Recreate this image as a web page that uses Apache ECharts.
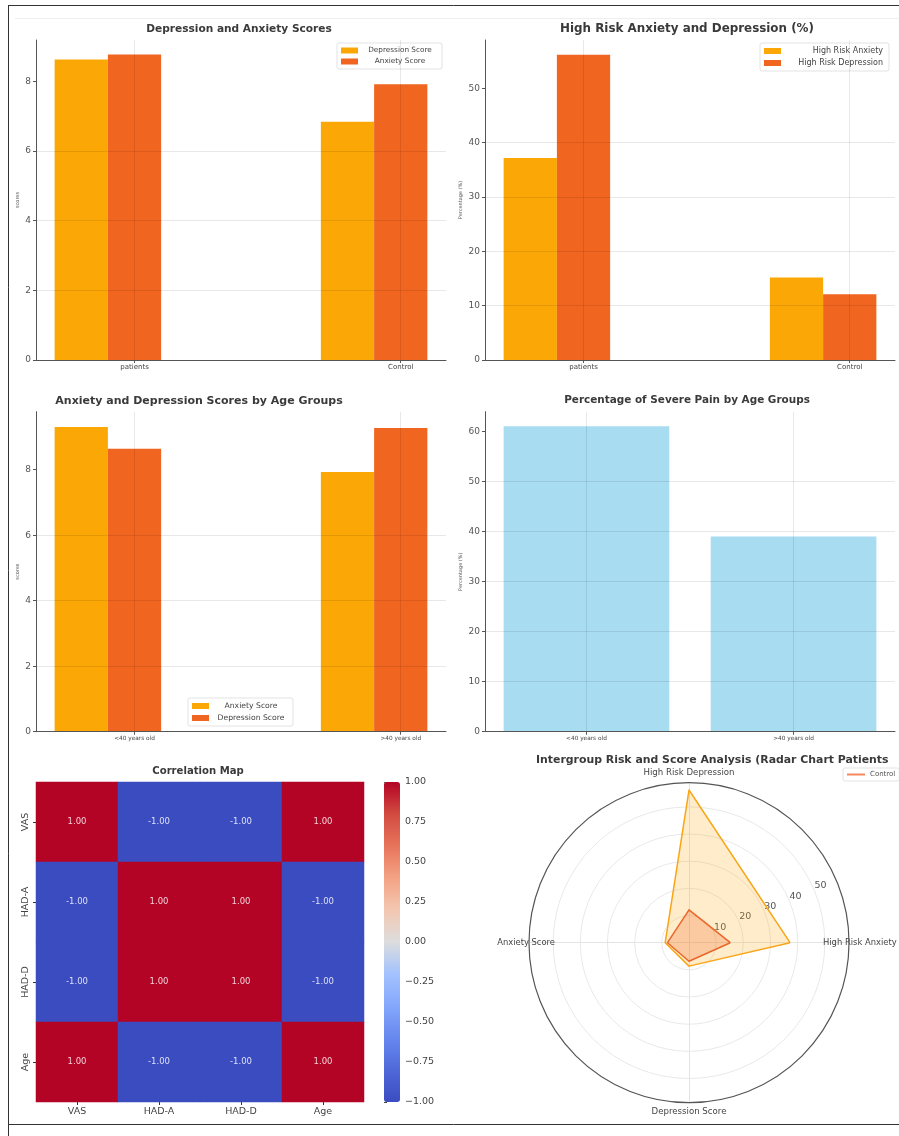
<!DOCTYPE html>
<html><head><meta charset="utf-8">
<script src="https://cdn.jsdelivr.net/npm/echarts@6/dist/echarts.min.js"></script>
<style>html,body{margin:0;padding:0;background:#fff}#c{width:899px;height:1136px}</style>
</head><body><div id="c"></div>
<script>
// ---------------- data ----------------
const groups = ['patients', 'Control'];
const depressionScore = [8.63, 6.84];
const anxietyScore = [8.77, 7.92];
const highRiskAnxiety = [37.2, 15.2];
const highRiskDepression = [56.2, 12.1];
const ageGroups = ['<40 years old', '>40 years old'];
const ageAnxietyScore = [9.30, 7.93];
const ageDepressionScore = [8.64, 9.27];
const severePainPct = [61.0, 39.0];
const corrVars = ['VAS', 'HAD-A', 'HAD-D', 'Age'];
const corrMatrix = [
  [1, -1, -1, 1],
  [-1, 1, 1, -1],
  [-1, 1, 1, -1],
  [1, -1, -1, 1]
];
const radarAxes = ['High Risk Anxiety', 'High Risk Depression', 'Anxiety Score', 'Depression Score'];
const radarPatients = [37.2, 56.2, 8.77, 8.63];
const radarControl = [15.2, 12.1, 7.92, 6.84];
const scoreTicks = [0, 2, 4, 6, 8];
const pctTicks = [0, 10, 20, 30, 40, 50];
const painTicks = [0, 10, 20, 30, 40, 50, 60];
const colorbarTicks = [-1, -0.75, -0.5, -0.25, 0, 0.25, 0.5, 0.75, 1];
const radialTicks = [10, 20, 30, 40, 50];

// ---------------- style ----------------
const FONT = 'DejaVu Sans';
const C_LIGHT = '#fba806';
const C_DARK = '#f0651f';
const C_SKY = 'rgba(135,206,235,0.72)';
const GRIDC = 'rgba(0,0,0,0.09)';
const AXC = '#555';
const COOLWARM = ['#3b4cc0', '#4f69d9', '#6788ee', '#84a7fc', '#a3c2fe', '#dcdddd', '#f3c7b1', '#f4a384', '#e7745b', '#d24b40', '#b40426'];

const grids = [], xAxes = [], yAxes = [], series = [], legends = [], titles = [];

function addBarPanel(o) {
  const gi = grids.length;
  grids.push({ left: o.left, top: o.top, width: o.width, height: o.height, outerBoundsMode: 'none', containLabel: false });
  const xt = o.cats.map((c, i) => i);
  xAxes.push({
    type: 'value', gridIndex: gi, min: o.xmin, max: o.xmax, z: 5,
    axisLine: { show: true, onZero: false, lineStyle: { color: AXC, width: 1 } },
    axisTick: { show: true, length: 3, customValues: xt, lineStyle: { color: AXC } },
    axisLabel: { customValues: xt, formatter: v => o.cats[Math.round(v)], fontSize: o.xFont, color: '#444', margin: 4, fontFamily: FONT },
    splitLine: { show: true, lineStyle: { color: GRIDC, width: 1 } }
  });
  yAxes.push({
    type: 'value', gridIndex: gi, min: 0, max: o.ymax, interval: o.yTicks[1] - o.yTicks[0], z: 5,
    name: o.yName, nameLocation: 'middle', nameGap: o.nameGap,
    nameTextStyle: { fontSize: 5, color: '#555', fontFamily: FONT },
    axisLine: { show: true, onZero: false, lineStyle: { color: AXC, width: 1 } },
    axisTick: { show: true, length: 3, customValues: o.yTicks, lineStyle: { color: AXC } },
    axisLabel: { customValues: o.yTicks, fontSize: 9, color: '#555', margin: 5, fontFamily: FONT },
    splitLine: { show: true, showMaxLine: false, lineStyle: { color: GRIDC, width: 1 } }
  });
  o.series.forEach(s => {
    series.push({
      type: 'bar', name: s.name, xAxisIndex: gi, yAxisIndex: gi,
      data: s.values.map((v, i) => [i, v]),
      barWidth: o.barWidth, barGap: '0%',
      itemStyle: { color: s.color }
    });
  });
  if (o.pad) {
    series.push({ type: 'bar', name: '__pad' + gi, xAxisIndex: gi, yAxisIndex: gi, data: [], barWidth: o.barWidth, barGap: '0%' });
  }
  return gi;
}

function addLegend(o) {
  legends.push({
    orient: 'vertical', left: o.left, top: o.top, padding: o.padding || [4, 5, 4, 4],
    itemGap: 4, itemWidth: 17, itemHeight: 6, icon: 'rect', selectedMode: false,
    borderColor: '#dcdcdc', borderWidth: 0.8, borderRadius: 2, backgroundColor: 'rgba(255,255,255,0.85)',
    data: o.names.map((n, i) => ({ name: n, itemStyle: { color: o.colors[i] } })),
    formatter: '{t|{name}}',
    textStyle: { fontFamily: FONT, color: '#444', fontSize: o.fontSize,
      rich: { t: { width: o.textWidth, align: o.align, fontSize: o.fontSize, lineHeight: 8, color: '#444', fontFamily: FONT } } }
  });
}

function addTitle(text, x, y, size, align) {
  titles.push({
    text: text, left: x, top: y, padding: 0, textAlign: align || 'center', textVerticalAlign: 'middle',
    textStyle: { fontFamily: FONT, fontSize: size, fontWeight: 'bold', color: '#3a3a3a' }
  });
}

// Panel 1
addBarPanel({
  left: 36, top: 40, width: 410, height: 320, xmin: -0.37, xmax: 1.17, ymax: 9.19,
  cats: groups, xFont: 7, yTicks: scoreTicks, yName: 'scores', nameGap: 16, barWidth: '20%', pad: true,
  series: [{ name: 'Depression Score', values: depressionScore, color: C_LIGHT },
           { name: 'Anxiety Score', values: anxietyScore, color: C_DARK }]
});
addLegend({ left: 337, top: 43, names: ['Depression Score', 'Anxiety Score'], colors: [C_LIGHT, C_DARK], fontSize: 7.3, textWidth: 74, align: 'center' });
addTitle('Depression and Anxiety Scores', 239, 29, 10.6);

// Panel 2
addBarPanel({
  left: 485, top: 40, width: 410, height: 320, xmin: -0.37, xmax: 1.17, ymax: 58.9,
  cats: groups, xFont: 7, yTicks: pctTicks, yName: 'Percentage (%)', nameGap: 22, barWidth: '20%', pad: true,
  series: [{ name: 'High Risk Anxiety', values: highRiskAnxiety, color: C_LIGHT },
           { name: 'High Risk Depression', values: highRiskDepression, color: C_DARK }]
});
addLegend({ left: 760, top: 43, padding: [4, 6, 4, 4], names: ['High Risk Anxiety', 'High Risk Depression'], colors: [C_LIGHT, C_DARK], fontSize: 8, textWidth: 97, align: 'right' });
addTitle('High Risk Anxiety and Depression (%)', 687, 29, 11.9);

// Panel 3
addBarPanel({
  left: 36, top: 411.7, width: 410, height: 320, xmin: -0.37, xmax: 1.17, ymax: 9.77,
  cats: ageGroups, xFont: 5.8, yTicks: scoreTicks, yName: 'scores', nameGap: 16, barWidth: '20%', pad: true,
  series: [{ name: 'Anxiety Score', values: ageAnxietyScore, color: C_LIGHT },
           { name: 'Depression Score', values: ageDepressionScore, color: C_DARK }]
});
addLegend({ left: 188, top: 698, names: ['Anxiety Score', 'Depression Score'], colors: [C_LIGHT, C_DARK], fontSize: 7.7, textWidth: 74, align: 'center' });
addTitle('Anxiety and Depression Scores by Age Groups', 199, 400.7, 11.0);

// Panel 4
addBarPanel({
  left: 485, top: 411.7, width: 410, height: 320, xmin: -0.49, xmax: 1.49, ymax: 63.9,
  cats: ageGroups, xFont: 5.8, yTicks: painTicks, yName: 'Percentage (%)', nameGap: 22, barWidth: '80%', pad: false,
  series: [{ name: 'Severe Pain', values: severePainPct, color: C_SKY }]
});
addTitle('Percentage of Severe Pain by Age Groups', 687, 400.7, 10.45);

// Panel 5: heatmap
const hg = grids.length;
grids.push({ left: 36, top: 782, width: 328, height: 320, outerBoundsMode: 'none', containLabel: false });
xAxes.push({
  type: 'category', gridIndex: hg, data: corrVars, position: 'bottom',
  axisLine: { show: false }, splitLine: { show: false }, splitArea: { show: false },
  axisTick: { show: true, alignWithLabel: true, length: 3, lineStyle: { color: '#333' } },
  axisLabel: { fontSize: 9.5, color: '#444', margin: 5, fontFamily: FONT }
});
yAxes.push({
  type: 'category', gridIndex: hg, data: corrVars, inverse: true,
  axisLine: { show: false }, splitLine: { show: false }, splitArea: { show: false },
  axisTick: { show: true, alignWithLabel: true, length: 3, lineStyle: { color: '#333' } },
  axisLabel: { rotate: 90, fontSize: 9.5, color: '#444', margin: 5, fontFamily: FONT }
});
const heatData = [];
corrMatrix.forEach((row, yi) => row.forEach((v, xi) => heatData.push([xi, yi, v])));
const heatIdx = series.length;
series.push({
  type: 'heatmap', xAxisIndex: hg, yAxisIndex: hg, data: heatData,
  label: { show: true, formatter: p => p.value[2].toFixed(2), fontSize: 8.5, color: 'rgba(255,255,255,0.82)', fontFamily: FONT },
  itemStyle: { borderWidth: 0 }
});
addTitle('Correlation Map', 198, 771.7, 10.1);

// colorbar axis
const cg = grids.length;
grids.push({ left: 384, top: 782, width: 16, height: 320, outerBoundsMode: 'none', containLabel: false });
xAxes.push({ type: 'value', gridIndex: cg, show: false, min: 0, max: 1 });
yAxes.push({
  type: 'value', gridIndex: cg, min: -1, max: 1, interval: 0.25, position: 'right',
  axisLine: { show: false }, splitLine: { show: false },
  axisTick: { show: true, length: 3, customValues: colorbarTicks, lineStyle: { color: '#444' } },
  axisLabel: { customValues: colorbarTicks, fontSize: 9.5, color: '#444', margin: 5, fontFamily: FONT,
    formatter: v => (v < 0 ? '\u2212' : '') + Math.abs(v).toFixed(2) }
});

// Radar
const RC = [689, 942.7], RR = 160, RMAX = 58.9;
const radarBase = {
  center: RC, radius: RR, startAngle: 0, shape: 'circle', splitNumber: 1,
  indicator: radarAxes.map(n => ({ name: n, min: 0, max: RMAX })),
  splitLine: { show: false }, splitArea: { show: false }, axisTick: { show: false }, axisLabel: { show: false }
};
const radars = [
  Object.assign({}, radarBase, {
    nameGap: 5,
    axisName: { fontSize: 8.6, color: '#444', fontFamily: FONT, formatter: n => (n === radarAxes[1] || n === radarAxes[3]) ? n : '' },
    axisLine: { show: true, lineStyle: { color: '#e3e3e3', width: 1 } }
  }),
  Object.assign({}, radarBase, {
    nameGap: -26,
    axisName: { fontSize: 8.4, color: '#444', fontFamily: FONT, formatter: n => (n === radarAxes[0] || n === radarAxes[2]) ? n : '' },
    axisLine: { show: false }
  })
];
series.push({
  type: 'radar', radarIndex: 0, name: 'Patients', symbol: 'none', z: 3,
  itemStyle: { color: '#f9a51a' },
  lineStyle: { color: '#f9a51a', width: 1.5 },
  areaStyle: { color: 'rgba(250,170,20,0.32)' },
  data: [{ name: 'Patients', value: radarPatients }]
});
series.push({
  type: 'radar', radarIndex: 0, name: 'Control', symbol: 'none', z: 4,
  itemStyle: { color: '#f07a3c' },
  lineStyle: { color: '#e8662a', width: 1.5 },
  areaStyle: { color: 'rgba(240,110,50,0.38)' },
  data: [{ name: 'Control', value: radarControl }]
});
legends.push({
  orient: 'vertical', left: 843, top: 768, padding: [3, 4, 3, 4], itemWidth: 18, itemHeight: 2, icon: 'rect',
  selectedMode: false, borderColor: '#dcdcdc', borderWidth: 0.8, borderRadius: 2,
  data: [{ name: 'Control', itemStyle: { color: '#f5875a' } }],
  textStyle: { fontFamily: FONT, color: '#555', fontSize: 7 }
});
addTitle('Intergroup Risk and Score Analysis (Radar Chart Patients', 536, 760, 10.9, 'left');

const option = {
  animation: false,
  textStyle: { fontFamily: FONT },
  title: titles,
  grid: grids,
  xAxis: xAxes,
  yAxis: yAxes,
  legend: legends,
  radar: radars,
  polar: { center: RC, radius: RR },
  angleAxis: {
    type: 'value', min: 0, max: 360, startAngle: 22.5, z: 4,
    axisLine: { show: true, lineStyle: { color: '#555', width: 1.2 } },
    axisTick: { show: false }, axisLabel: { show: false }, splitLine: { show: false }, splitArea: { show: false }
  },
  radiusAxis: {
    type: 'value', min: 0, max: RMAX, interval: 10,
    axisLine: { show: false },
    axisTick: { show: false, customValues: radialTicks },
    axisLabel: { customValues: radialTicks, fontSize: 9.5, color: '#555', fontFamily: FONT, margin: 0, align: 'left', verticalAlign: 'bottom' },
    splitLine: { show: true, lineStyle: { color: '#e8e8e8', width: 1 } }
  },
  visualMap: {
    type: 'continuous', min: -1, max: 1, seriesIndex: heatIdx, calculable: false, orient: 'vertical',
    left: 384, top: 782, itemWidth: 16, itemHeight: 320, padding: 0, text: null, hoverLink: false,
    inRange: { color: COOLWARM }
  },
  graphic: [
    { type: 'line', shape: { x1: 8, y1: 5.5, x2: 899, y2: 5.5 }, style: { stroke: '#333', lineWidth: 1 } },
    { type: 'line', shape: { x1: 8.5, y1: 5, x2: 8.5, y2: 1136 }, style: { stroke: '#333', lineWidth: 1 } },
    { type: 'line', shape: { x1: 8, y1: 1124.5, x2: 899, y2: 1124.5 }, style: { stroke: '#333', lineWidth: 1 } },
    { type: 'line', shape: { x1: 15, y1: 18.5, x2: 899, y2: 18.5 }, style: { stroke: '#efefef', lineWidth: 1 } }
  ],
  series: series
};
const chart = echarts.init(document.getElementById('c'), null, { renderer: 'canvas' });
chart.setOption(option);
</script>
</body></html>
